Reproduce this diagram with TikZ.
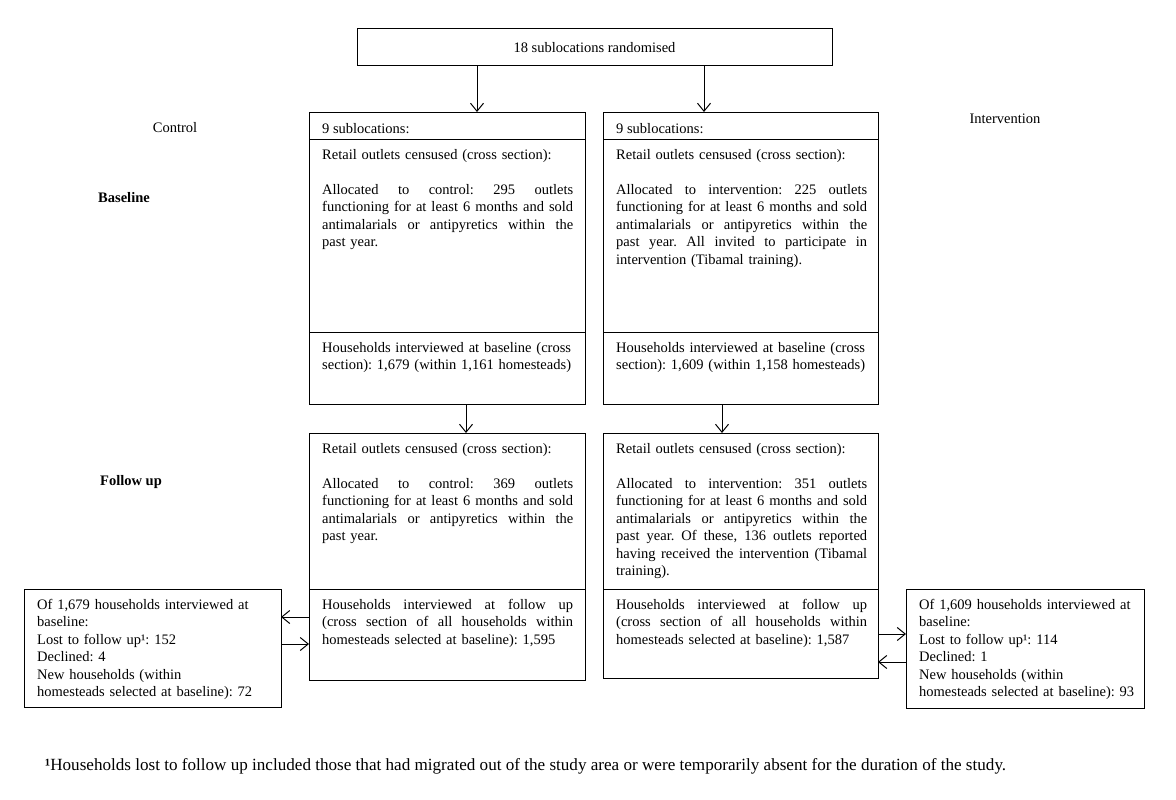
\documentclass[tikz,border=0pt]{standalone}
\usepackage{fontspec}
\setmainfont{Liberation Serif}
\usetikzlibrary{arrows.meta}
\setlength{\parindent}{0pt}
\frenchspacing
\hyphenpenalty=10000
\newcommand\fs{\fontsize{14.5}{17.5}\selectfont}
\newcommand\jl[1]{{\spaceskip=.25em plus 1fil\relax\xspaceskip=.25em plus 1fil\relax\makebox[251pt][s]{#1}}}
\tikzset{
  box/.style={draw, line width=1pt, anchor=north west, inner sep=0pt, outer sep=0pt},
  txt/.style={anchor=north west, inner sep=0pt, text width=251pt, font=\fs},
  stxt/.style={anchor=north west, inner sep=0pt, text width=240pt, font=\fs},
  one/.style={anchor=base west, inner sep=0pt, font=\fs},
  lab/.style={inner sep=0pt, font=\fs},
  arr/.style={line width=1pt, -{Straight Barb[length=8pt,width=13pt]}},
}
\begin{document}
\begin{tikzpicture}[x=1pt,y=-1pt]
\useasboundingbox (0,0) rectangle (1176,800);
% top
\node[box, minimum width=475pt, minimum height=37pt, font=\fs] (top) at (357,29) {18 sublocations randomised};
% left column
\node[box, minimum width=276pt, minimum height=27pt] (lh) at (309,112) {};
\node[box, minimum width=276pt, minimum height=193pt] (lr) at (309,139) {};
\node[box, minimum width=276pt, minimum height=72pt] (lb) at (309,332) {};
\node[box, minimum width=276pt, minimum height=156pt] (lf) at (309,433) {};
\node[box, minimum width=276pt, minimum height=91pt] (lfh) at (309,589) {};
% right column
\node[box, minimum width=275pt, minimum height=27pt] (rh) at (603,112) {};
\node[box, minimum width=275pt, minimum height=193pt] (rr) at (603,139) {};
\node[box, minimum width=275pt, minimum height=72pt] (rb) at (603,332) {};
\node[box, minimum width=275pt, minimum height=156pt] (rf) at (603,433) {};
\node[box, minimum width=275pt, minimum height=89pt] (rfh) at (603,589) {};
% side boxes
\node[box, minimum width=257pt, minimum height=118pt] (ls) at (24,589) {};
\node[box, minimum width=238pt, minimum height=119pt] (rs) at (906,589) {};

% texts left column
\node[one] (lht) at (322,133) {9 sublocations:};
\node[txt] (lrt) at (322,146.75) {\strut Retail outlets censused (cross section):\\[17.5pt]
\jl{Allocated to control: 295 outlets}\\
\jl{functioning for at least 6 months and sold}\\
\jl{antimalarials or antipyretics within the}\\
past year.};
\node[txt] (lbt) at (322,339.75) {\strut Households interviewed at baseline (cross\\
section): 1,679 (within 1,161 homesteads)};
\node[txt] (lft) at (322,440.75) {\strut Retail outlets censused (cross section):\\[17.5pt]
\jl{Allocated to control: 369 outlets}\\
\jl{functioning for at least 6 months and sold}\\
\jl{antimalarials or antipyretics within the}\\
past year.};
\node[txt] (lfht) at (322,596.75) {\strut\jl{Households interviewed at follow up}\\
\jl{(cross section of all households within}\\
homesteads selected at baseline): 1,595};

% texts right column
\node[one] (rht) at (616,133) {9 sublocations:};
\node[txt] (rrt) at (616,146.75) {\strut Retail outlets censused (cross section):\\[17.5pt]
\jl{Allocated to intervention: 225 outlets}\\
\jl{functioning for at least 6 months and sold}\\
\jl{antimalarials or antipyretics within the}\\
\jl{past year. All invited to participate in}\\
intervention (Tibamal training).};
\node[txt] (rbt) at (616,339.75) {\strut Households interviewed at baseline (cross\\
section): 1,609 (within 1,158 homesteads)};
\node[txt] (rft) at (616,440.75) {\strut Retail outlets censused (cross section):\\[17.5pt]
\jl{Allocated to intervention: 351 outlets}\\
\jl{functioning for at least 6 months and sold}\\
\jl{antimalarials or antipyretics within the}\\
\jl{past year. Of these, 136 outlets reported}\\
\jl{having received the intervention (Tibamal}\\
training).};
\node[txt] (rfht) at (616,596.75) {\strut\jl{Households interviewed at follow up}\\
\jl{(cross section of all households within}\\
homesteads selected at baseline): 1,587};

% side texts
\node[stxt] (lst) at (37,596.75) {\strut Of 1,679 households interviewed at\\
baseline:\\
Lost to follow up¹: 152\\
Declined: 4\\
New households (within\\
homesteads selected at baseline): 72};
\node[stxt] (rst) at (919,596.75) {\strut Of 1,609 households interviewed at\\
baseline:\\
Lost to follow up¹: 114\\
Declined: 1\\
New households (within\\
homesteads selected at baseline): 93};

% labels
\node[lab] (lcon) at (175,128) {Control};
\node[lab] (lint) at (1005,119) {Intervention};
\node[lab, font=\fs\bfseries] (lbase) at (124,198) {Baseline};
\node[lab, font=\fs\bfseries] (lfu) at (131,482) {Follow up};
\node[one, font=\fontsize{17.1}{20}\selectfont] (fn) at (45,770) {\textbf{¹}Households lost to follow up included those that had migrated out of the study area or were temporarily absent for the duration of the study.};

% connectors
\coordinate (xa) at (477,0);
\coordinate (xb) at (704,0);
\coordinate (xc) at (466,0);
\coordinate (xd) at (722,0);
\coordinate (ya) at (0,617);
\coordinate (yb) at (0,644);
\coordinate (yc) at (0,634);
\coordinate (yd) at (0,662);
\draw[arr] (top.south -| xa) -- (lh.north -| xa);
\draw[arr] (top.south -| xb) -- (rh.north -| xb);
\draw[arr] (lb.south -| xc) -- (lf.north -| xc);
\draw[arr] (rb.south -| xd) -- (rf.north -| xd);
\draw[arr] (lfh.west |- ya) -- (ls.east |- ya);
\draw[arr] (ls.east |- yb) -- (lfh.west |- yb);
\draw[arr] (rfh.east |- yc) -- (rs.west |- yc);
\draw[arr] (rs.west |- yd) -- (rfh.east |- yd);
\end{tikzpicture}
\end{document}
